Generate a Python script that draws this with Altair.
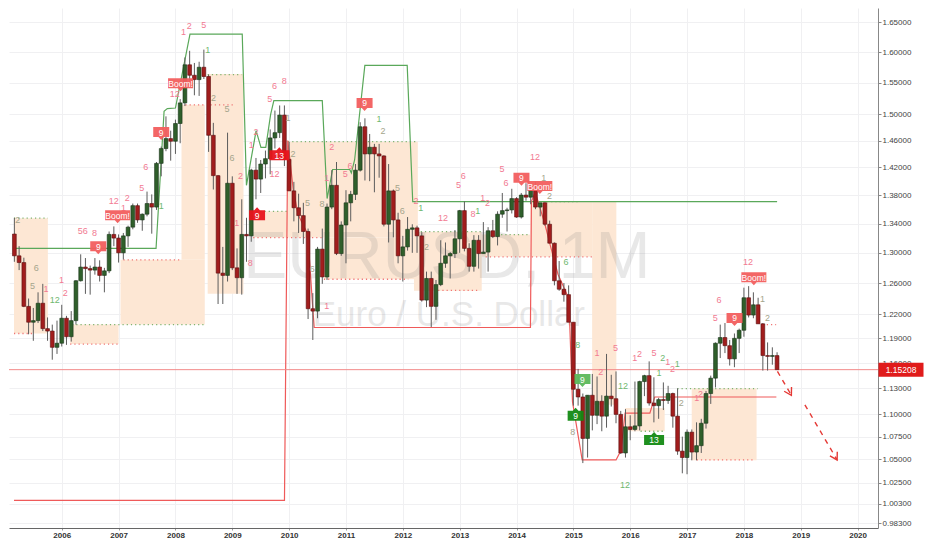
import altair as alt
import pandas as pd

# ---------------- data: EUR/USD monthly candles (Mar 2005 - Aug 2018) ----------------
first_year, first_month = 2005, 3

opens = [
    1.3255, 1.2960, 1.2870, 1.2300, 1.2100, 1.2120, 1.2340, 1.2020, 1.1990, 1.1790,
    1.1840, 1.2150, 1.1920, 1.2120, 1.2630, 1.2810, 1.2790, 1.2770, 1.2810, 1.2700, 1.2760, 1.3250,
    1.3200, 1.3000, 1.3230, 1.3350, 1.3650, 1.3450, 1.3530, 1.3680, 1.3630, 1.4260, 1.4480, 1.4630,
    1.4590, 1.4860, 1.5180, 1.5790, 1.5620, 1.5550, 1.5750, 1.5600, 1.4680, 1.4080, 1.2730, 1.2700,
    1.3970, 1.2800, 1.2670, 1.3250, 1.3230, 1.4160, 1.4030, 1.4250, 1.4330, 1.4640, 1.4720, 1.4990,
    1.4320, 1.3860, 1.3620, 1.3510, 1.3290, 1.2270, 1.2240, 1.3050, 1.2680, 1.3630, 1.3940, 1.2990,
    1.3380, 1.3690, 1.3810, 1.4160, 1.4810, 1.4400, 1.4500, 1.4400, 1.4370, 1.3390, 1.3860, 1.3450,
    1.2960, 1.3080, 1.3320, 1.3340, 1.3230, 1.2380, 1.2660, 1.2300, 1.2580, 1.2860, 1.2960, 1.2990,
    1.3190, 1.3580, 1.3060, 1.2820, 1.3170, 1.2990, 1.3010, 1.3300, 1.3220, 1.3530, 1.3580, 1.3590,
    1.3750, 1.3490, 1.3800, 1.3770, 1.3870, 1.3630, 1.3690, 1.3390, 1.3130, 1.2630, 1.2520, 1.2450,
    1.2100, 1.1290, 1.1200, 1.0730, 1.1220, 1.0990, 1.1150, 1.0980, 1.1210, 1.1180, 1.1000, 1.0570,
    1.0860, 1.0830, 1.0870, 1.1380, 1.1450, 1.1130, 1.1100, 1.1170, 1.1160, 1.1240, 1.0980, 1.0590,
    1.0520, 1.0800, 1.0580, 1.0650, 1.0900, 1.1240, 1.1420, 1.1840, 1.1910, 1.1810, 1.1650, 1.1900,
    1.2000, 1.2410, 1.2190, 1.2320, 1.2080, 1.1690, 1.1680, 1.1690,
]
highs = [
    1.3480, 1.3090, 1.2935, 1.2400, 1.2280, 1.2480, 1.2590, 1.2160, 1.2070, 1.2120,
    1.2320, 1.2180, 1.2240, 1.2640, 1.2980, 1.2930, 1.2830, 1.2930, 1.2900, 1.2800, 1.3290, 1.3360,
    1.3250, 1.3270, 1.3370, 1.3680, 1.3680, 1.3540, 1.3850, 1.3810, 1.4280, 1.4510, 1.4970, 1.4750,
    1.4920, 1.5240, 1.5910, 1.6020, 1.5820, 1.5840, 1.6040, 1.5630, 1.4870, 1.4090, 1.3080, 1.4720,
    1.4070, 1.3060, 1.3740, 1.3480, 1.4180, 1.4340, 1.4310, 1.4450, 1.4770, 1.5060, 1.5140, 1.5140,
    1.4580, 1.3990, 1.3820, 1.3690, 1.3330, 1.2470, 1.3080, 1.3330, 1.3680, 1.4160, 1.4280, 1.3430,
    1.3870, 1.3860, 1.4250, 1.4880, 1.4940, 1.4700, 1.4550, 1.4550, 1.4380, 1.4250, 1.3880, 1.3550,
    1.3230, 1.3490, 1.3390, 1.3370, 1.3280, 1.2750, 1.2750, 1.2640, 1.3170, 1.3140, 1.3010, 1.3310,
    1.3590, 1.3710, 1.3130, 1.3240, 1.3240, 1.3420, 1.3350, 1.3450, 1.3570, 1.3830, 1.3620, 1.3890,
    1.3770, 1.3830, 1.3970, 1.3920, 1.3990, 1.3690, 1.3700, 1.3440, 1.3140, 1.2890, 1.2600, 1.2570,
    1.2100, 1.1530, 1.1240, 1.1220, 1.1470, 1.1440, 1.1220, 1.1710, 1.1460, 1.1500, 1.1040, 1.1060,
    1.0990, 1.1380, 1.1390, 1.1460, 1.1620, 1.1430, 1.1190, 1.1370, 1.1330, 1.1250, 1.1300, 1.0750,
    1.0830, 1.0830, 1.0910, 1.0950, 1.1270, 1.1450, 1.1850, 1.2070, 1.2090, 1.1880, 1.1960, 1.2020,
    1.2540, 1.2560, 1.2480, 1.2410, 1.2090, 1.1850, 1.1790, 1.1730,
]
lows = [
    1.2880, 1.2770, 1.2290, 1.1950, 1.1870, 1.2090, 1.1990, 1.1870, 1.1640, 1.1710,
    1.1800, 1.1820, 1.1860, 1.2070, 1.2620, 1.2460, 1.2450, 1.2710, 1.2620, 1.2480, 1.2730, 1.3090,
    1.2870, 1.2910, 1.3080, 1.3320, 1.3410, 1.3300, 1.3500, 1.3260, 1.3590, 1.4070, 1.4440, 1.4300,
    1.4400, 1.4560, 1.5130, 1.5510, 1.5300, 1.5290, 1.5560, 1.4430, 1.3880, 1.2330, 1.2330, 1.2620,
    1.2770, 1.2460, 1.2450, 1.2880, 1.3150, 1.3740, 1.3830, 1.4040, 1.4100, 1.4480, 1.4640, 1.4220,
    1.3860, 1.3430, 1.3270, 1.3120, 1.2140, 1.1880, 1.2150, 1.2590, 1.2640, 1.3600, 1.2970, 1.2960,
    1.2860, 1.3430, 1.3730, 1.4140, 1.4010, 1.4000, 1.3840, 1.4050, 1.3360, 1.3140, 1.3210, 1.2860,
    1.2620, 1.3030, 1.3000, 1.3000, 1.2360, 1.2290, 1.2040, 1.2130, 1.2560, 1.2800, 1.2660, 1.2930,
    1.3000, 1.3020, 1.2750, 1.2750, 1.2790, 1.2990, 1.2750, 1.3200, 1.3100, 1.3480, 1.3290, 1.3540,
    1.3480, 1.3470, 1.3720, 1.3670, 1.3600, 1.3500, 1.3370, 1.3130, 1.2570, 1.2500, 1.2360, 1.2100,
    1.1100, 1.1100, 1.0460, 1.0520, 1.0820, 1.0890, 1.0810, 1.0850, 1.1090, 1.0900, 1.0560, 1.0520,
    1.0710, 1.0810, 1.0820, 1.1210, 1.1100, 1.0910, 1.0950, 1.1050, 1.1120, 1.0850, 1.0550, 1.0350,
    1.0340, 1.0490, 1.0490, 1.0570, 1.0840, 1.1120, 1.1310, 1.1660, 1.1720, 1.1570, 1.1550, 1.1720,
    1.1920, 1.2160, 1.2150, 1.2080, 1.1510, 1.1510, 1.1580, 1.1520,
]
closes = [
    1.2960, 1.2870, 1.2300, 1.2100, 1.2120, 1.2340, 1.2020, 1.1990, 1.1790, 1.1840,
    1.2150, 1.1920, 1.2120, 1.2630, 1.2810, 1.2790, 1.2770, 1.2810, 1.2700, 1.2760, 1.3250, 1.3200,
    1.3000, 1.3230, 1.3350, 1.3650, 1.3450, 1.3530, 1.3680, 1.3630, 1.4260, 1.4480, 1.4630, 1.4590,
    1.4860, 1.5180, 1.5790, 1.5620, 1.5550, 1.5750, 1.5600, 1.4680, 1.4080, 1.2730, 1.2700, 1.3970,
    1.2800, 1.2670, 1.3250, 1.3230, 1.4160, 1.4030, 1.4250, 1.4330, 1.4640, 1.4720, 1.4990, 1.4320,
    1.3860, 1.3620, 1.3510, 1.3290, 1.2270, 1.2240, 1.3050, 1.2680, 1.3630, 1.3940, 1.2990, 1.3380,
    1.3690, 1.3810, 1.4160, 1.4810, 1.4400, 1.4500, 1.4400, 1.4370, 1.3390, 1.3860, 1.3450, 1.2960,
    1.3080, 1.3320, 1.3340, 1.3230, 1.2380, 1.2660, 1.2300, 1.2580, 1.2860, 1.2960, 1.2990, 1.3190,
    1.3580, 1.3060, 1.2820, 1.3170, 1.2990, 1.3010, 1.3300, 1.3220, 1.3530, 1.3580, 1.3590, 1.3750,
    1.3490, 1.3800, 1.3770, 1.3870, 1.3630, 1.3690, 1.3390, 1.3130, 1.2630, 1.2520, 1.2450, 1.2100,
    1.1290, 1.1200, 1.0730, 1.1220, 1.0990, 1.1150, 1.0980, 1.1210, 1.1180, 1.1000, 1.0570, 1.0860,
    1.0830, 1.0870, 1.1380, 1.1450, 1.1130, 1.1100, 1.1170, 1.1160, 1.1240, 1.0980, 1.0590, 1.0520,
    1.0800, 1.0580, 1.0650, 1.0900, 1.1240, 1.1420, 1.1840, 1.1910, 1.1810, 1.1650, 1.1900, 1.2000,
    1.2410, 1.2190, 1.2320, 1.2080, 1.1690, 1.1680, 1.1690, 1.15208,
]

last_price = 1.15208
year_ticks = list(range(2006, 2021))
price_ticks = [0.983, 1.003, 1.025, 1.05, 1.075, 1.10, 1.13, 1.16, 1.19, 1.22, 1.26,
               1.30, 1.34, 1.38, 1.42, 1.46, 1.50, 1.55, 1.60, 1.65]

# indicator: resistance (green) and support (red) step lines  (decimal year, price)
res_t = [2005.160, 2007.659, 2007.800, 2007.857, 2008.000, 2008.256, 2009.175, 2009.249,
         2009.419, 2009.504, 2009.589, 2009.674, 2009.731, 2010.583, 2010.668, 2010.765,
         2011.067, 2011.094, 2011.152, 2011.332, 2012.077, 2012.174, 2018.584]
res_p = [1.306, 1.306, 1.505, 1.509, 1.510, 1.630, 1.630, 1.394,
         1.475, 1.4497, 1.4497, 1.4998, 1.5215, 1.5215, 1.375, 1.417,
         1.417, 1.412, 1.431, 1.578, 1.578, 1.3707, 1.3707]
sup_t = [2005.160, 2009.918, 2009.976, 2010.071, 2010.157, 2010.327, 2010.412, 2010.441,
         2014.245, 2014.262, 2014.330, 2014.500, 2014.586, 2014.729, 2014.920, 2014.985,
         2015.155, 2015.751, 2015.836, 2015.910, 2016.346, 2016.431, 2018.571]
sup_p = [1.0065, 1.0065, 1.460, 1.389, 1.3525, 1.3256, 1.2319, 1.2034,
         1.2034, 1.3707, 1.384, 1.339, 1.3125, 1.2715, 1.240, 1.1144,
         1.0494, 1.0494, 1.0596, 1.1015, 1.1015, 1.120, 1.120]

# shaded ranges
zone_t1 = [2005.160, 2006.148, 2007.034, 2008.107, 2008.567, 2009.368, 2009.981, 2010.612,
           2012.196, 2013.388, 2014.245, 2015.330, 2015.910, 2017.082]
zone_t2 = [2005.756, 2007.000, 2008.516, 2008.516, 2009.197, 2009.981, 2012.264, 2012.264,
           2013.388, 2014.236, 2015.330, 2015.756, 2016.606, 2018.223]
zone_p1 = [1.196, 1.183, 1.207, 1.2907, 1.246, 1.3207, 1.3207, 1.265,
           1.250, 1.2946, 1.2946, 1.111, 1.081, 1.049]
zone_p2 = [1.3475, 1.207, 1.2907, 1.515, 1.564, 1.357, 1.4584, 1.3207,
           1.3287, 1.3248, 1.3707, 1.3707, 1.1073, 1.1298]

# dotted level lines
lvl_t1 = [2005.160, 2005.160, 2006.182, 2006.148, 2007.085, 2008.175, 2008.567, 2008.618,
          2009.419, 2009.368, 2009.981, 2010.612, 2012.315, 2012.622, 2013.729, 2013.457,
          2014.240, 2016.829, 2017.170, 2018.329, 2016.182]
lvl_t2 = [2005.756, 2005.500, 2008.516, 2007.000, 2008.107, 2008.516, 2009.163, 2009.027,
          2009.981, 2010.612, 2012.264, 2012.094, 2013.388, 2013.337, 2014.240, 2015.330,
          2015.090, 2018.243, 2018.158, 2018.567, 2016.608]
lvl_p = [1.3475, 1.196, 1.207, 1.183, 1.2907, 1.515, 1.563, 1.515,
         1.357, 1.3207, 1.4584, 1.265, 1.3287, 1.2505, 1.3248, 1.2946,
         1.3707, 1.1298, 1.0494, 1.207, 1.081]
lvl_kind = ["res", "sup", "res", "sup", "sup", "sup", "res", "sup",
            "res", "sup", "res", "sup", "res", "sup", "res", "sup",
            "res", "res", "sup", "sup", "res"]

# count numbers
num_text = ["2", "6", "5", "1", "12", "1", "2", "56", "8", "12", "2", "1", "5", "6", "1", "12",
            "1", "2", "5", "1", "2", "5", "6", "2", "1", "8", "1", "2", "5", "6", "8", "1",
            "12", "2", "1", "2", "2", "5", "6", "1", "8", "5", "6", "5", "6", "2", "1", "12",
            "5", "6", "8", "1", "1", "2", "5", "6", "12", "1", "2", "2", "6", "1", "8", "8",
            "1", "5", "2", "12", "1", "2", "5", "2", "1", "2", "1", "1", "2", "1", "2", "12",
            "5", "6", "12", "1", "2"]
num_t = [2005.228, 2005.552, 2005.484, 2005.722, 2005.876, 2005.995, 2006.063, 2006.370,
         2006.574, 2006.915, 2007.153, 2007.085, 2007.409, 2007.477, 2007.750, 2007.988,
         2008.141, 2008.243, 2008.499, 2008.567, 2008.669, 2008.908, 2008.993, 2009.146,
         2009.078, 2009.317, 2009.334, 2009.419, 2009.658, 2009.743, 2009.913, 2009.981,
         2009.743, 2010.066, 2011.583, 2011.651, 2010.748, 2010.986, 2011.072, 2010.663,
         2010.578, 2010.322, 2010.407, 2011.907, 2011.992, 2012.230, 2012.315, 2012.707,
         2012.980, 2013.065, 2013.235, 2013.320, 2013.405, 2013.490, 2013.746, 2013.814,
         2014.325, 2014.479, 2014.580, 2012.417, 2014.870, 2010.663, 2015.075, 2014.990,
         2015.415, 2015.739, 2015.483, 2015.875, 2016.080, 2016.165, 2016.420, 2016.574,
         2016.659, 2016.744, 2016.829, 2016.506, 2016.897, 2017.170, 2017.238, 2015.910,
         2017.494, 2017.562, 2018.073, 2018.329, 2018.414]
num_p = [1.345, 1.280, 1.256, 1.2525, 1.2377, 1.264, 1.2474, 1.330,
         1.3274, 1.372, 1.376, 1.361, 1.390, 1.421, 1.365, 1.532,
         1.633, 1.643, 1.646, 1.604, 1.5256, 1.509, 1.434, 1.408,
         1.341, 1.287, 1.454, 1.473, 1.524, 1.544, 1.552, 1.495,
         1.410, 1.4395, 1.4925, 1.4746, 1.451, 1.410, 1.422, 1.404,
         1.368, 1.369, 1.279, 1.390, 1.358, 1.372, 1.361, 1.3475,
         1.394, 1.407, 1.353, 1.358, 1.376, 1.369, 1.418, 1.397,
         1.435, 1.405, 1.379, 1.308, 1.288, 1.230, 1.182, 1.080,
         1.1725, 1.178, 1.149, 1.133, 1.1655, 1.171, 1.1725, 1.1655,
         1.161, 1.1527, 1.1585, 1.148, 1.113, 1.1186, 1.124, 1.023,
         1.2154, 1.2376, 1.288, 1.239, 1.2154]
num_kind = ["gray", "gray", "gray", "pink", "green", "pink", "pink", "pink",
            "pink", "pink", "pink", "pink", "pink", "pink", "green", "pink",
            "pink", "pink", "pink", "green", "gray", "gray", "gray", "pink",
            "pink", "pink", "pink", "pink", "pink", "pink", "pink", "gray",
            "pink", "gray", "green", "gray", "pink", "pink", "pink", "pink",
            "gray", "gray", "gray", "gray", "gray", "pink", "green", "pink",
            "pink", "pink", "pink", "green", "pink", "pink", "pink", "pink",
            "pink", "gray", "gray", "gray", "green", "pink", "green", "gray",
            "pink", "pink", "pink", "green", "pink", "pink", "pink", "green",
            "pink", "pink", "green", "green", "gray", "pink", "pink", "green",
            "pink", "pink", "pink", "gray", "gray"]

# signal flags
flag_text = ["9", "Boom!", "9", "Boom!", "9", "13", "9", "9", "Boom!", "9", "9", "13", "9", "Boom!"]
flag_t = [2006.642, 2006.983, 2007.750, 2008.090, 2009.436, 2009.828, 2011.327, 2014.087,
          2014.410, 2015.160, 2015.040, 2016.420, 2017.835, 2018.175]
flag_p = [1.309, 1.3515, 1.473, 1.549, 1.3515, 1.438, 1.518, 1.405,
          1.393, 1.141, 1.0986, 1.0714, 1.2154, 1.2677]
flag_kind = ["sell", "sell", "sell", "sell", "sell13", "sell13", "sell", "sell",
             "sell", "buy", "buy13", "buy13", "sell", "sell"]
flag_ptr = ["down", "down", "down", "down", "up", "up", "down", "down",
            "down", "down", "up", "up", "down", "down"]

# projected path (dashed arrow)
arrow_t1 = [2018.590, 2019.073]
arrow_t2 = [2018.835, 2019.640]
arrow_p1 = [1.150, 1.111]
arrow_p2 = [1.122, 1.0494]

# ---------------- chart ----------------
W, H = 869, 520
xs = alt.Scale(domain=[2005.1601, 2020.2709], nice=False, zero=False)
ys = alt.Scale(type="log", domain=[0.9781, 1.6745], nice=False)
FONT = "Liberation Sans"

x_axis = alt.Axis(values=year_ticks, format="d", title=None, labelFont=FONT,
                  labelFontWeight="bold", labelFontSize=8, labelColor="#333",
                  tickSize=2, tickColor="#999", domainColor="#666", grid=True,
                  gridColor="#f0f0f2", labelPadding=1, labelFlush=False,
                  labelOverlap=False)
y_axis = alt.Axis(orient="right", values=price_ticks, format=".5f", title=None,
                  labelFont=FONT, labelFontSize=8, labelColor="#444", tickSize=3,
                  tickColor="#888", domainColor="#888", grid=True, gridColor="#f0f0f2",
                  labelPadding=1, labelOverlap=False, labelFlush=False)


def X(f):
    return alt.X(f, type="quantitative", scale=xs, axis=x_axis)


def Y(f):
    return alt.Y(f, type="quantitative", scale=ys, axis=y_axis)


n = len(closes)
candles = pd.DataFrame({
    "t": [first_year + (first_month - 1 + i) / 12 for i in range(n)],
    "o": opens, "h": highs, "l": lows, "c": closes,
})
candles["dir"] = ["up" if c >= o else "down" for o, c in zip(opens, closes)]

zones = pd.DataFrame({"t1": zone_t1, "t2": zone_t2, "p1": zone_p1, "p2": zone_p2})
levels = pd.DataFrame({"t1": lvl_t1, "t2": lvl_t2, "p": lvl_p, "kind": lvl_kind})
res = pd.DataFrame({"t": res_t, "p": res_p, "i": range(len(res_t))})
sup = pd.DataFrame({"t": sup_t, "p": sup_p, "i": range(len(sup_t))})
nums = pd.DataFrame({"t": num_t, "p": num_p, "txt": num_text, "kind": num_kind})
flags = pd.DataFrame({"t": flag_t, "p": flag_p, "txt": flag_text, "kind": flag_kind,
                      "ptr": flag_ptr})
arrows = pd.DataFrame({"t1": arrow_t1, "t2": arrow_t2, "p1": arrow_p1, "p2": arrow_p2})

zone_layer = alt.Chart(zones).mark_rect(color="#fde7d4", clip=True).encode(
    x=X("t1"), x2="t2", y=Y("p1"), y2="p2")

wm1 = alt.Chart(zones.head(1)).mark_text(
    text="EURUSD, 1M", font=FONT, fontSize=66, color="#7a7a7a", opacity=0.17,
    align="center", baseline="alphabetic").encode(
    x=alt.X(datum=2012.775, type="quantitative", scale=xs, axis=x_axis),
    y=alt.Y(datum=1.2662, type="quantitative", scale=ys, axis=y_axis))
wm2 = alt.Chart(zones.head(1)).mark_text(
    text="Euro / U.S. Dollar", font=FONT, fontSize=35, color="#7a7a7a", opacity=0.17,
    align="center", baseline="alphabetic").encode(
    x=alt.X(datum=2012.81, type="quantitative", scale=xs, axis=x_axis),
    y=alt.Y(datum=1.2058, type="quantitative", scale=ys, axis=y_axis))

level_layer = alt.Chart(levels).mark_rule(strokeDash=[1.2, 3], strokeWidth=1.3, clip=True).encode(
    x=X("t1"), x2="t2", y=Y("p"),
    color=alt.Color("kind:N", scale=alt.Scale(domain=["res", "sup"],
                                              range=["#7fb36f", "#f07474"]), legend=None))

res_layer = alt.Chart(res).mark_line(color="#5aa85a", strokeWidth=1.2, clip=True).encode(
    x=X("t"), y=Y("p"), order="i:Q")
sup_layer = alt.Chart(sup).mark_line(color="#ef5a5a", strokeWidth=1.2, clip=True).encode(
    x=X("t"), y=Y("p"), order="i:Q")

price_rule = alt.Chart(zones.head(1)).mark_rule(color="#f28a8a", strokeWidth=1).encode(
    y=alt.Y(datum=last_price, type="quantitative", scale=ys, axis=y_axis))

wick = alt.Chart(candles).mark_rule(color="#5c5c5c", strokeWidth=1, clip=True).encode(
    x=X("t"), y=Y("l"), y2="h")
body = alt.Chart(candles).mark_bar(size=3.8, strokeWidth=0.6, clip=True).encode(
    x=X("t"), y=Y("o"), y2="c",
    fill=alt.Fill("dir:N", scale=alt.Scale(domain=["up", "down"],
                                           range=["#2f5f2b", "#a11d1d"]), legend=None),
    stroke=alt.Stroke("dir:N", scale=alt.Scale(domain=["up", "down"],
                                               range=["#173317", "#5a0d0d"]), legend=None))

num_layer = alt.Chart(nums).mark_text(font=FONT, fontSize=9, baseline="middle",
                                      align="center", clip=True).encode(
    x=X("t"), y=Y("p"), text="txt:N",
    color=alt.Color("kind:N", scale=alt.Scale(domain=["pink", "green", "gray"],
                                              range=["#f27a92", "#6fb86f", "#a5a58c"]),
                    legend=None))


def flag_path(w, h, ptr):
    s = w / 2.0
    hh = (h / 2.0) / s
    tip = 3.0 / s
    tw = 2.8 / s
    if ptr == "down":
        return (f"M-1,{-hh:.3f}L1,{-hh:.3f}L1,{hh:.3f}L{tw:.3f},{hh:.3f}"
                f"L0,{hh + tip:.3f}L{-tw:.3f},{hh:.3f}L-1,{hh:.3f}Z")
    return (f"M-1,{hh:.3f}L1,{hh:.3f}L1,{-hh:.3f}L{tw:.3f},{-hh:.3f}"
            f"L0,{-hh - tip:.3f}L{-tw:.3f},{-hh:.3f}L-1,{-hh:.3f}Z")


flag_colors = alt.Scale(domain=["sell", "sell13", "buy", "buy13"],
                        range=["#f25e5e", "#e8141c", "#5cb85c", "#138a13"])
flag_layers = []
for (txt, ptr), grp in flags.groupby(["txt", "ptr"]):
    w = 25 if txt == "Boom!" else (16 if len(txt) == 1 else 20)
    flag_layers.append(
        alt.Chart(grp).mark_point(shape=flag_path(w, 10, ptr), size=w * w, filled=True,
                                  opacity=0.95, strokeWidth=0).encode(
            x=X("t"), y=Y("p"),
            fill=alt.Fill("kind:N", scale=flag_colors, legend=None)))
flag_text_layer = alt.Chart(flags).mark_text(font=FONT, fontSize=8.5, color="white",
                                             baseline="middle", align="center", dy=0.5).encode(
    x=X("t"), y=Y("p"), text="txt:N")

arrow_line = alt.Chart(arrows).mark_rule(color="#e53935", strokeWidth=1.4,
                                         strokeDash=[5, 5]).encode(
    x=X("t1"), x2="t2", y=Y("p1"), y2="p2")
arrow_head = alt.Chart(arrows).mark_point(shape="M-1,-0.6L0,0L-1,0.6", size=200,
                                          filled=False, color="#e53935", strokeWidth=1.4,
                                          angle=60, opacity=1).encode(
    x=X("t2"), y=Y("p2"))

tag_box = alt.Chart(zones.head(1)).mark_point(
    shape="M-1,-0.31L1,-0.31L1,0.31L-1,0.31Z", size=45 * 45, filled=True,
    color="#e01b1b", opacity=1, strokeWidth=0).encode(
    x=alt.value(W + 23),
    y=alt.Y(datum=last_price, type="quantitative", scale=ys, axis=y_axis))
tag_text = alt.Chart(zones.head(1)).mark_text(
    text=f"{last_price:.5f}", font=FONT, fontSize=8.5, color="white",
    baseline="middle", align="center").encode(
    x=alt.value(W + 23),
    y=alt.Y(datum=last_price, type="quantitative", scale=ys, axis=y_axis))

chart = alt.layer(
    zone_layer, wm1, wm2, level_layer, res_layer, sup_layer, price_rule,
    wick, body, num_layer, *flag_layers, flag_text_layer, arrow_line, arrow_head,
    tag_box, tag_text,
).resolve_scale(
    color="independent", fill="independent", stroke="independent"
).properties(
    width=W, height=H, background="white", padding=0
).configure_view(stroke=None)

chart.save("out.html", embed_options={"renderer": "svg", "actions": False})
